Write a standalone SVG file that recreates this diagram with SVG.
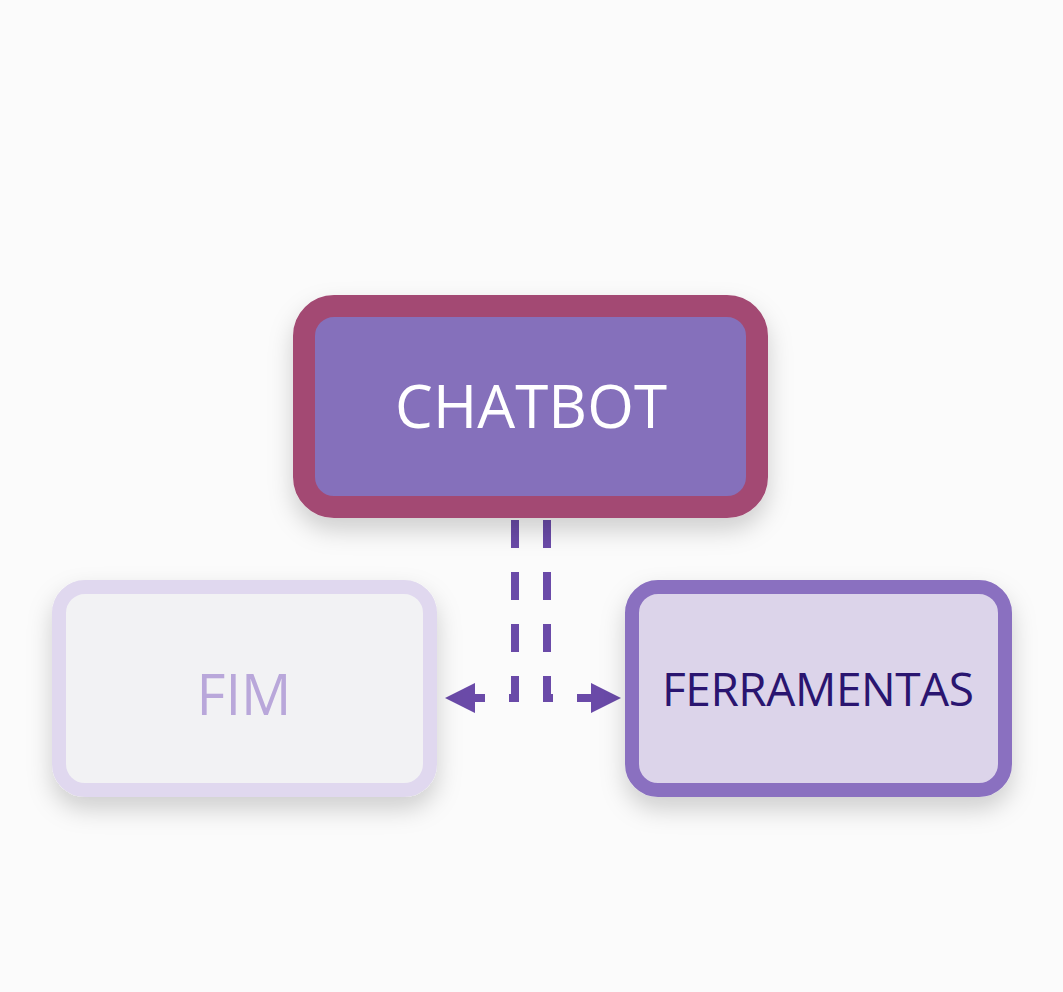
<svg xmlns="http://www.w3.org/2000/svg" width="1063" height="992" viewBox="0 0 1063 992">
<defs>
<filter id="sh" x="-20%" y="-20%" width="140%" height="150%"><feDropShadow dx="0" dy="12" stdDeviation="12" flood-color="#000" flood-opacity="0.18"/></filter>
<marker id="ah" viewBox="0 0 10 10" refX="9" refY="5" markerWidth="3.8" markerHeight="3.8" orient="auto-start-reverse"><path d="M0,0 L10,5 L0,10 z" fill="#6a4aa8"/></marker>
<style>
text{font-family:"Open Sans","Liberation Sans",sans-serif;text-anchor:middle;dominant-baseline:central}
.c{fill:none;stroke:#6a4aa8;stroke-width:8;stroke-dasharray:28 24}
</style>
</defs>
<rect width="1063" height="992" fill="#fbfbfb"/>
<g id="connectors">
<path class="c" d="M515,520 V698 H448" marker-end="url(#ah)"/>
<path class="c" d="M547,520 V698 H618" marker-end="url(#ah)"/>
</g>
<g id="chatbot">
<rect x="304" y="306" width="453" height="201" rx="30" fill="#8570bb" stroke="#a34a73" stroke-width="22" filter="url(#sh)"/>
<text x="531" y="405" font-size="60" fill="#ffffff" textLength="272">CHATBOT</text>
</g>
<g id="fim">
<rect x="59" y="587" width="371" height="203" rx="26" fill="#f2f2f4" stroke="#e0d8ef" stroke-width="14" filter="url(#sh)"/>
<text x="244" y="693" font-size="56" fill="#b9a7da">FIM</text>
</g>
<g id="ferramentas">
<rect x="632" y="587" width="373" height="203" rx="26" fill="#dcd4ea" stroke="#8a70c0" stroke-width="14" filter="url(#sh)"/>
<text x="818" y="688" font-size="46" fill="#2a1570" textLength="312">FERRAMENTAS</text>
</g>
</svg>
